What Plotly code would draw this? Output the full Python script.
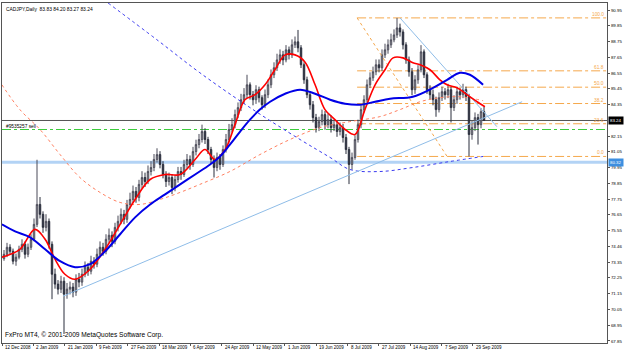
import plotly.graph_objects as go

symbol_title = "CADJPY,Daily  83.83 84.20 83.27 83.24"
copyright_text = "FxPro MT4, \u00a9 2001-2009 MetaQuotes Software Corp."
order_label = "#9535257 sell"

closes = [73.90, 74.39, 74.11, 73.42, 73.70, 74.25, 74.60, 73.90, 74.39, 74.95,
          75.99, 77.38, 76.69, 75.78, 76.20, 74.60, 72.51, 71.82, 71.47, 72.02,
          71.12, 71.47, 71.61, 71.26, 72.16, 71.96, 72.51, 73.00, 72.72, 73.42,
          73.21, 73.90, 74.39, 74.11, 74.95, 75.23, 74.81, 75.78, 76.20, 76.69,
          76.34, 77.38, 77.73, 78.29, 77.87, 78.78, 79.26, 78.98, 79.68, 79.96,
          80.52, 80.86, 80.17, 79.47, 78.98, 79.26, 78.57, 79.12, 79.68, 79.47,
          80.17, 80.52, 80.17, 81.07, 81.56, 81.91, 82.47, 81.91, 81.21, 80.52,
          79.96, 80.66, 80.17, 81.21, 81.91, 82.61, 82.95, 83.65, 84.14, 84.69,
          85.04, 85.73, 85.04, 84.69, 85.39, 84.83, 84.34, 85.04, 85.73, 86.43,
          86.92, 87.47, 87.82, 87.47, 88.17, 87.82, 88.52, 88.73, 88.31, 87.13,
          86.08, 85.04, 84.34, 83.44, 82.74, 83.16, 83.65, 82.95, 83.30, 82.74,
          82.95, 82.47, 82.74, 82.05, 81.21, 80.17, 80.66, 81.91, 82.95, 84.00,
          84.69, 85.73, 86.22, 86.64, 87.13, 86.92, 87.82, 88.17, 88.52, 88.87,
          89.21, 89.70, 89.42, 88.52, 87.47, 86.64, 85.39, 86.08, 86.78, 88.03,
          86.43, 85.39, 85.04, 84.69, 84.00, 84.83, 85.25, 85.04, 85.39, 84.14,
          84.69, 85.25, 85.04, 85.39, 84.90, 82.26, 82.74, 83.44, 82.95, 83.86,
          83.24]
highs = [74.20, 74.70, 74.60, 74.30, 73.95, 74.50, 74.95, 74.80, 74.65, 75.30,
         76.40, 80.50, 77.90, 76.90, 76.70, 76.40, 74.80, 72.90, 72.10, 72.40,
         72.30, 71.90, 72.00, 71.90, 72.50, 72.60, 72.90, 73.40, 73.30, 73.80,
         73.70, 74.30, 74.80, 74.70, 75.30, 75.70, 75.50, 76.10, 76.60, 77.10,
         77.00, 77.70, 78.20, 78.70, 78.60, 79.10, 79.70, 79.60, 80.10, 80.40,
         80.90, 81.30, 81.10, 80.40, 79.70, 79.60, 79.50, 79.40, 80.00, 80.00,
         80.50, 80.90, 80.80, 81.40, 81.90, 82.30, 82.95, 82.70, 82.10, 81.40,
         80.80, 81.00, 80.90, 81.50, 82.30, 83.00, 83.40, 84.00, 84.50, 85.10,
         85.50, 86.43, 85.90, 85.30, 85.70, 85.60, 85.00, 85.40, 86.10, 86.80,
         87.30, 87.90, 88.20, 88.10, 88.50, 88.40, 88.90, 89.10, 89.56, 88.50,
         87.30, 86.30, 85.30, 84.60, 83.70, 83.50, 84.00, 83.90, 83.70, 83.60,
         83.30, 83.20, 83.10, 83.00, 82.30, 81.40, 81.00, 82.20, 83.30, 84.30,
         85.00, 86.10, 86.60, 87.00, 87.50, 87.50, 88.20, 88.60, 88.90, 89.30,
         89.60, 90.40, 90.00, 89.60, 88.70, 87.70, 86.90, 86.40, 87.10, 88.50,
         88.20, 86.60, 85.70, 85.40, 84.90, 85.20, 85.60, 85.50, 85.80, 85.60,
         85.00, 85.60, 85.50, 85.80, 85.60, 85.10, 83.20, 83.80, 83.70, 84.10,
         84.20]
lows = [73.45, 73.70, 73.85, 73.20, 73.10, 73.55, 74.05, 73.60, 73.70, 74.20,
        74.80, 75.80, 76.40, 75.40, 75.50, 74.30, 70.77, 71.50, 71.10, 71.20,
        68.34, 70.80, 71.10, 70.90, 71.00, 71.60, 71.70, 72.30, 72.40, 72.50,
        72.90, 73.00, 73.70, 73.80, 73.90, 74.70, 74.40, 74.60, 75.50, 76.00,
        76.00, 76.10, 77.10, 77.50, 77.50, 77.60, 78.50, 78.60, 78.80, 79.40,
        79.70, 80.30, 79.90, 79.20, 78.60, 78.70, 78.10, 78.30, 78.90, 79.10,
        79.30, 79.90, 79.80, 80.00, 80.80, 81.30, 81.70, 81.60, 80.90, 80.20,
        79.26, 79.70, 79.80, 80.00, 81.00, 81.70, 82.40, 82.70, 83.40, 83.90,
        84.40, 84.80, 84.70, 84.30, 84.40, 84.50, 84.00, 84.10, 84.80, 85.50,
        86.20, 86.70, 87.20, 87.10, 87.30, 87.50, 87.60, 88.30, 88.00, 86.90,
        85.80, 84.80, 84.00, 83.10, 82.40, 82.50, 82.90, 82.60, 82.70, 82.40,
        82.50, 82.10, 82.20, 81.70, 80.90, 78.80, 79.80, 80.50, 81.70, 82.70,
        83.80, 84.50, 85.50, 86.00, 86.40, 86.60, 86.70, 87.60, 87.90, 88.30,
        88.70, 89.00, 89.10, 88.20, 87.20, 86.30, 85.00, 85.10, 85.80, 86.60,
        86.20, 85.10, 84.70, 84.30, 83.50, 83.80, 84.60, 84.70, 84.80, 83.10,
        83.90, 84.40, 84.70, 84.80, 84.60, 80.73, 81.90, 82.50, 81.56, 82.70,
        83.20]
first_open = 73.60
opens = [first_open] + closes[:-1]
bars = list(range(len(closes)))

# indicator lines (bar index, price)
red_ma_x = [-0.7, 5.3, 10.3, 13.7, 17, 20.3, 23.7, 28.7, 33.7, 38.7, 43.7, 48.7, 53.7, 58.7, 63.7,
            67, 70.3, 73.7, 77, 80.3, 83.7, 87, 90.3, 93.7, 97, 100.3, 103.7, 107, 110.3, 113.7,
            117, 120.3, 123.7, 127, 129.7, 133, 136.3, 138.7, 142, 145.3, 147.7, 151, 154.3, 157.7, 160.3]
red_ma_y = [73.70, 74.25, 75.64, 74.95, 73.56, 72.51, 72.16, 72.86, 74.25, 75.99, 77.73, 79.12, 79.47, 79.47, 80.52,
            81.21, 80.52, 81.21, 82.95, 84.69, 85.04, 85.73, 86.78, 87.82, 87.82, 87.33, 85.73, 84.00, 83.30, 82.61,
            82.26, 84.00, 85.73, 86.78, 87.61, 87.61, 87.27, 87.13, 86.78, 86.08, 85.73, 85.52, 85.04, 84.55, 84.20]
blue_ma_x = [-0.7, 3.7, 8.7, 13.7, 18.7, 23.7, 28.7, 33.7, 38.7, 43.7, 48.7, 53.7, 58.7, 63.7, 68.7,
             72, 75.3, 78.7, 82, 85.3, 88.7, 93.7, 98.7, 103.7, 108.7, 113.7, 118.7, 123.7, 128.7, 136.3,
             143, 147.7, 152, 155.3, 159.7]
blue_ma_y = [75.99, 75.50, 75.09, 74.25, 73.42, 73.00, 73.21, 74.11, 75.30, 76.48, 77.38, 78.08, 78.78, 79.47, 80.17,
             80.73, 81.56, 82.47, 83.30, 84.00, 84.55, 85.11, 85.39, 85.11, 84.69, 84.41, 84.34, 84.55, 84.76, 84.90,
             85.52, 86.08, 86.57, 86.43, 85.73]
salmon_x = [-0.7, 5.3, 12, 18.7, 25.3, 32, 38.7, 45.3, 52, 58.7, 65.3, 75.3, 85.3, 95.3, 105.3,
            115.3, 125.3, 132, 138.7, 145.3, 152, 159.7]
salmon_y = [85.73, 84.00, 82.61, 80.86, 79.26, 78.22, 77.52, 77.38, 77.73, 78.22, 78.78, 79.68, 80.86, 81.91, 82.74,
            83.16, 83.51, 84.00, 84.55, 84.83, 84.90, 84.62]
bdot_x = [34.7, 51, 65.3, 82, 98.7, 108.7, 115.3, 125.3, 136.3, 148.7, 159.7]
bdot_y = [91.44, 88.87, 86.57, 84.14, 81.91, 80.66, 79.82, 79.68, 79.96, 80.38, 80.73]

# drawn objects
trend_up_x = [19.7, 172.7]
trend_up_y = [70.98, 84.55]
trend_down_x = [132, 164.3]
trend_down_y = [90.40, 82.81]
fib_x = [117.7, 147.7]
fib_high = 90.40
fib_low = 80.73
fib_levels = [0.0, 23.6, 38.2, 50.0, 61.8, 100.0]
fib_labels = ["0.0", "23.6", "38.2", "50.0", "61.8", "100.0"]
bid_price = 83.24
order_price = 82.61
support_price = 80.32

y_tick_vals = [67.85, 68.95, 70.05, 71.15, 72.25, 73.35, 74.45, 75.55, 76.65, 77.75, 78.85,
               79.95, 81.05, 82.15, 84.35, 85.45, 86.55, 87.65, 88.75, 89.85, 90.95]
y_tick_text = ["67.85", "68.95", "70.05", "71.15", "72.25", "73.35", "74.46", "75.55", "76.65", "77.75", "78.85",
               "79.95", "81.05", "82.15", "84.35", "85.45", "86.55", "87.65", "88.75", "89.85", "90.95"]
date_labels = ["12 Dec 2008", "2 Jan 2009", "21 Jan 2009", "9 Feb 2009", "27 Feb 2009", "18 Mar 2009",
               "6 Apr 2009", "24 Apr 2009", "12 May 2009", "1 Jun 2009", "19 Jun 2009", "8 Jul 2009",
               "27 Jul 2009", "14 Aug 2009", "7 Sep 2009", "29 Sep 2009"]
date_pos = [-0.6, 9.8, 20.3, 30.7, 41.2, 51.7, 62.1, 72.6, 83.1, 93.5, 104, 114.5, 124.9, 135.4, 145.9, 156.3]

X_MIN, X_MAX = -0.667, 201
FONT = "Liberation Sans, Arial, sans-serif"
ORANGE = "#f5a84c"
LBLUE = "#8fbde8"

fig = go.Figure()

fig.add_shape(type="line", xref="paper", x0=0, x1=1, yref="y", y0=support_price, y1=support_price,
              line=dict(color="#b3d3f5", width=3), layer="below")
fig.add_shape(type="line", xref="paper", x0=0, x1=1, yref="y", y0=order_price, y1=order_price,
              line=dict(color="#3ccc3c", width=1, dash="dashdot"), layer="below")
fig.add_shape(type="line", xref="paper", x0=0, x1=1, yref="y", y0=bid_price, y1=bid_price,
              line=dict(color="#555555", width=1), layer="below")
for lv in fib_levels:
    p = fib_low + (fib_high - fib_low) * lv / 100.0
    fig.add_shape(type="line", xref="x", x0=fib_x[0], x1=X_MAX, yref="y", y0=p, y1=p,
                  line=dict(color=ORANGE, width=1, dash="dashdot"), layer="below")

fig.add_trace(go.Scatter(x=salmon_x, y=salmon_y, mode="lines", line=dict(color="#ff7f60", width=1, dash="dot", shape="spline"), hoverinfo="skip"))
fig.add_trace(go.Scatter(x=bdot_x, y=bdot_y, mode="lines", line=dict(color="#3a3af0", width=1, dash="dot", shape="spline"), hoverinfo="skip"))
fig.add_trace(go.Scatter(x=fib_x, y=[fib_high, fib_low], mode="lines", line=dict(color=ORANGE, width=1, dash="dot"), hoverinfo="skip"))

fig.add_trace(go.Candlestick(
    x=bars, open=opens, high=highs, low=lows, close=closes,
    increasing=dict(line=dict(color="#4a4a58", width=1), fillcolor="#bcbcbc"),
    decreasing=dict(line=dict(color="#2a2e3c", width=1), fillcolor="#2a2e3c"),
    whiskerwidth=0, hoverinfo="skip"))

fig.add_trace(go.Scatter(x=trend_up_x, y=trend_up_y, mode="lines", line=dict(color=LBLUE, width=1), hoverinfo="skip"))
fig.add_trace(go.Scatter(x=trend_down_x, y=trend_down_y, mode="lines", line=dict(color=LBLUE, width=1), hoverinfo="skip"))
fig.add_trace(go.Scatter(x=red_ma_x, y=red_ma_y, mode="lines", line=dict(color="#ff0000", width=1.6, shape="spline"), hoverinfo="skip"))
fig.add_trace(go.Scatter(x=blue_ma_x, y=blue_ma_y, mode="lines", line=dict(color="#0000e6", width=2, shape="spline"), hoverinfo="skip"))

ann = []
ann.append(dict(text=symbol_title, xref="paper", yref="paper", x=0, y=1, xanchor="left", yanchor="top",
                xshift=2, yshift=-2, showarrow=False, font=dict(size=4.9, color="#000", family=FONT)))
ann.append(dict(text=copyright_text, xref="paper", yref="paper", x=0, y=0, xanchor="left", yanchor="bottom",
                xshift=1, yshift=2, showarrow=False, font=dict(size=6.6, color="#000", family=FONT)))
ann.append(dict(text=order_label, xref="paper", yref="y", x=0, y=order_price, xanchor="left", yanchor="bottom",
                xshift=2, yshift=-1, showarrow=False, font=dict(size=4.8, color="#000", family=FONT)))
for lv, lab in zip(fib_levels, fib_labels):
    p = fib_low + (fib_high - fib_low) * lv / 100.0
    ann.append(dict(text=lab, xref="paper", yref="y", x=1, y=p, xanchor="right", yanchor="bottom",
                    xshift=-1, yshift=-1, showarrow=False, font=dict(size=4.8, color=ORANGE, family=FONT)))
for d, pos in zip(date_labels, date_pos):
    ann.append(dict(text=d, xref="x", yref="paper", x=pos, y=0, xanchor="left", yanchor="top",
                    xshift=1, yshift=0, showarrow=False, font=dict(size=4.5, color="#000", family=FONT)))
ann.append(dict(text=f"{bid_price:.2f}", xref="paper", yref="y", x=1, y=bid_price, xanchor="left", yanchor="middle",
                xshift=1, showarrow=False, bgcolor="#000000", borderpad=1,
                font=dict(size=4.4, color="#ffffff", family=FONT)))
ann.append(dict(text=f"{support_price:.2f}", xref="paper", yref="y", x=1, y=support_price, xanchor="left", yanchor="middle",
                xshift=1, showarrow=False, bgcolor="#3d8fe0", borderpad=1,
                font=dict(size=4.4, color="#ffffff", family=FONT)))

fig.update_layout(
    width=625, height=352,
    margin=dict(l=2, r=18, t=3, b=9),
    paper_bgcolor="#ffffff", plot_bgcolor="#ffffff",
    showlegend=False,
    annotations=ann,
    xaxis=dict(range=[X_MIN, X_MAX], showgrid=False, zeroline=False, rangeslider=dict(visible=False),
               showline=True, mirror=True, linecolor="#555555", linewidth=1,
               tickmode="array", tickvals=date_pos, ticks="outside", ticklen=2, tickcolor="#555555",
               showticklabels=False, fixedrange=True),
    yaxis=dict(range=[67.71, 91.44], side="right", showgrid=False, zeroline=False,
               showline=True, mirror=True, linecolor="#555555", linewidth=1,
               tickmode="array", tickvals=y_tick_vals, ticktext=y_tick_text,
               ticks="outside", ticklen=2, tickcolor="#555555",
               tickfont=dict(size=4.4, color="#000", family=FONT), fixedrange=True),
)

fig.write_html("out.html")
